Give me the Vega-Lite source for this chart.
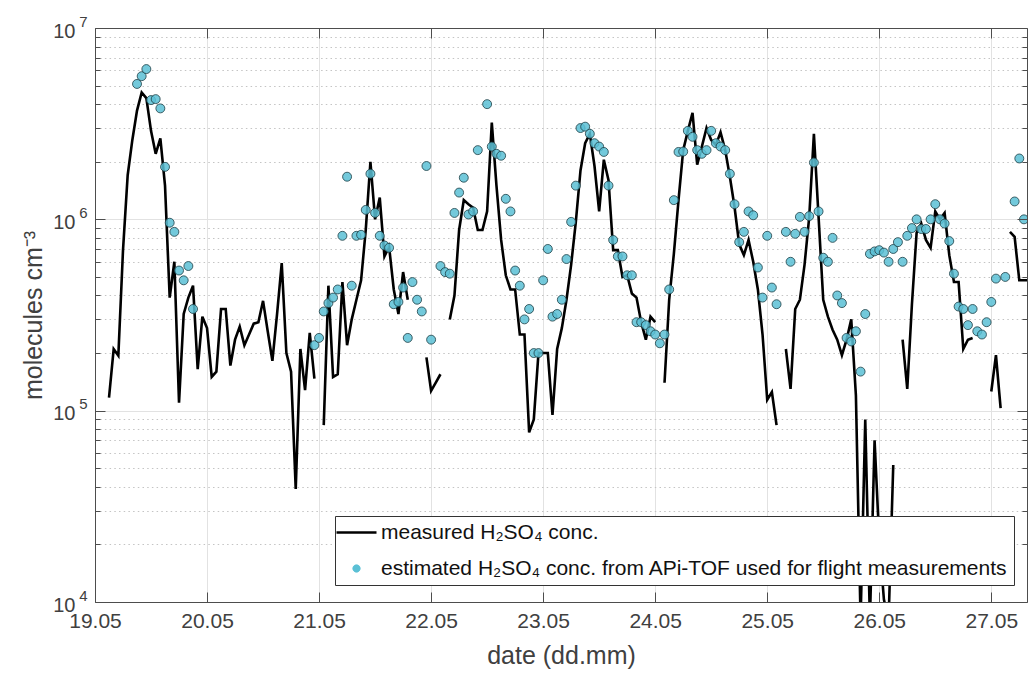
{
  "$schema": "https://vega.github.io/schema/vega-lite/v6.json",
  "width": 932,
  "height": 574,
  "autosize": {"type": "none"},
  "padding": {"left": 95, "top": 28, "right": 2, "bottom": 71},
  "background": "white",
  "config": {"view": {"stroke": null}, "font": "Liberation Sans"},
  "data": {"values": [
    {"h":3,"m":117000,"e":null},{"h":4,"m":210000,"e":null},{"h":5,"m":194000,"e":null},{"h":6,"m":690000,"e":null},
    {"h":7,"m":1700000,"e":null},{"h":8,"m":2600000,"e":null},{"h":9,"m":3700000,"e":5100000},{"h":10,"m":4600000,"e":5600000},
    {"h":11,"m":4300000,"e":6100000},{"h":12,"m":2900000,"e":4200000},{"h":13,"m":2200000,"e":4250000},{"h":14,"m":2650000,"e":3800000},
    {"h":15,"m":1500000,"e":1880000},{"h":16,"m":390000,"e":960000},{"h":17,"m":600000,"e":860000},{"h":18,"m":110000,"e":540000},
    {"h":19,"m":320000,"e":480000},{"h":20,"m":390000,"e":570000},{"h":21,"m":450000,"e":340000},{"h":22,"m":165000,"e":null},
    {"h":23,"m":310000,"e":null},{"h":24,"m":270000,"e":null},{"h":25,"m":150000,"e":null},{"h":26,"m":160000,"e":null},
    {"h":27,"m":340000,"e":null},{"h":28,"m":340000,"e":null},{"h":29,"m":172000,"e":null},{"h":30,"m":235000,"e":null},
    {"h":31,"m":275000,"e":null},{"h":32,"m":220000,"e":null},{"h":33,"m":250000,"e":null},{"h":34,"m":285000,"e":null},
    {"h":35,"m":290000,"e":null},{"h":36,"m":375000,"e":null},{"h":37,"m":260000,"e":null},{"h":38,"m":182000,"e":null},
    {"h":39,"m":320000,"e":null},{"h":40,"m":590000,"e":null},{"h":41,"m":200000,"e":null},{"h":42,"m":160000,"e":null},
    {"h":43,"m":39000,"e":null},{"h":44,"m":210000,"e":null},{"h":45,"m":128000,"e":null},{"h":46,"m":255000,"e":null},
    {"h":47,"m":147000,"e":220000},{"h":48,"m":null,"e":240000},{"h":49,"m":84000,"e":330000},{"h":50,"m":450000,"e":365000},
    {"h":51,"m":150000,"e":390000},{"h":52,"m":155000,"e":430000},{"h":53,"m":470000,"e":820000},{"h":54,"m":220000,"e":1670000},
    {"h":55,"m":300000,"e":450000},{"h":56,"m":380000,"e":820000},{"h":57,"m":480000,"e":830000},{"h":58,"m":880000,"e":1120000},
    {"h":59,"m":2000000,"e":1730000},{"h":60,"m":1000000,"e":1080000},{"h":61,"m":1300000,"e":820000},{"h":62,"m":640000,"e":730000},
    {"h":63,"m":720000,"e":710000},{"h":64,"m":430000,"e":360000},{"h":65,"m":320000,"e":370000},{"h":66,"m":530000,"e":440000},
    {"h":67,"m":380000,"e":240000},{"h":68,"m":null,"e":470000},{"h":69,"m":null,"e":380000},{"h":70,"m":null,"e":330000},
    {"h":71,"m":190000,"e":1900000},{"h":72,"m":127000,"e":235000},{"h":73,"m":140000,"e":null},{"h":74,"m":155000,"e":570000},
    {"h":75,"m":null,"e":530000},{"h":76,"m":300000,"e":520000},{"h":77,"m":400000,"e":1080000},{"h":78,"m":880000,"e":1380000},
    {"h":79,"m":1260000,"e":1650000},{"h":80,"m":1200000,"e":1060000},{"h":81,"m":1150000,"e":1100000},{"h":82,"m":880000,"e":2300000},
    {"h":83,"m":880000,"e":null},{"h":84,"m":1100000,"e":4000000},{"h":85,"m":3200000,"e":2400000},{"h":86,"m":1500000,"e":2200000},
    {"h":87,"m":780000,"e":2150000},{"h":88,"m":510000,"e":1280000},{"h":89,"m":430000,"e":1100000},{"h":90,"m":430000,"e":540000},
    {"h":91,"m":250000,"e":450000},{"h":92,"m":250000,"e":300000},{"h":93,"m":77000,"e":340000},{"h":94,"m":90000,"e":200000},
    {"h":95,"m":200000,"e":200000},{"h":96,"m":200000,"e":480000},{"h":97,"m":200000,"e":700000},{"h":98,"m":95000,"e":310000},
    {"h":99,"m":210000,"e":320000},{"h":100,"m":270000,"e":380000},{"h":101,"m":380000,"e":620000},{"h":102,"m":580000,"e":970000},
    {"h":103,"m":970000,"e":1500000},{"h":104,"m":1800000,"e":3000000},{"h":105,"m":2500000,"e":3050000},{"h":106,"m":2800000,"e":2800000},
    {"h":107,"m":1900000,"e":2500000},{"h":108,"m":1100000,"e":2400000},{"h":109,"m":2050000,"e":2250000},{"h":110,"m":1600000,"e":1500000},
    {"h":111,"m":690000,"e":780000},{"h":112,"m":690000,"e":640000},{"h":113,"m":500000,"e":640000},{"h":114,"m":510000,"e":510000},
    {"h":115,"m":410000,"e":510000},{"h":116,"m":390000,"e":290000},{"h":117,"m":290000,"e":290000},{"h":118,"m":235000,"e":280000},
    {"h":119,"m":310000,"e":260000},{"h":120,"m":290000,"e":250000},{"h":121,"m":null,"e":225000},{"h":122,"m":140000,"e":250000},
    {"h":123,"m":380000,"e":430000},{"h":124,"m":660000,"e":1260000},{"h":125,"m":1260000,"e":2250000},{"h":126,"m":2300000,"e":2260000},
    {"h":127,"m":2900000,"e":2900000},{"h":128,"m":3600000,"e":2700000},{"h":129,"m":1930000,"e":2300000},{"h":130,"m":2400000,"e":2200000},
    {"h":131,"m":3000000,"e":2300000},{"h":132,"m":2600000,"e":2900000},{"h":133,"m":2450000,"e":2500000},{"h":134,"m":2850000,"e":2400000},
    {"h":135,"m":2300000,"e":2300000},{"h":136,"m":1670000,"e":1730000},{"h":137,"m":1160000,"e":1200000},{"h":138,"m":740000,"e":760000},
    {"h":139,"m":650000,"e":860000},{"h":140,"m":780000,"e":1100000},{"h":141,"m":600000,"e":1050000},{"h":142,"m":430000,"e":560000},
    {"h":143,"m":250000,"e":390000},{"h":144,"m":114000,"e":820000},{"h":145,"m":125000,"e":440000},{"h":146,"m":84000,"e":360000},
    {"h":147,"m":null,"e":null},{"h":148,"m":210000,"e":860000},{"h":149,"m":130000,"e":600000},{"h":150,"m":340000,"e":840000},
    {"h":151,"m":380000,"e":1030000},{"h":152,"m":580000,"e":860000},{"h":153,"m":1030000,"e":1040000},{"h":154,"m":2800000,"e":1980000},
    {"h":155,"m":1030000,"e":1100000},{"h":156,"m":380000,"e":630000},{"h":157,"m":310000,"e":600000},{"h":158,"m":265000,"e":800000},
    {"h":159,"m":235000,"e":400000},{"h":160,"m":195000,"e":365000},{"h":161,"m":235000,"e":240000},{"h":162,"m":300000,"e":230000},
    {"h":163,"m":120000,"e":260000},{"h":164,"m":8000,"e":160000},{"h":165,"m":90000,"e":320000},{"h":166,"m":8000,"e":660000},
    {"h":167,"m":70000,"e":680000},{"h":168,"m":21000,"e":690000},{"h":169,"m":10300,"e":670000},{"h":170,"m":8000,"e":600000},
    {"h":171,"m":52000,"e":700000},{"h":172,"m":null,"e":760000},{"h":173,"m":235000,"e":600000},{"h":174,"m":130000,"e":820000},
    {"h":175,"m":360000,"e":900000},{"h":176,"m":850000,"e":1000000},{"h":177,"m":950000,"e":890000},{"h":178,"m":780000,"e":890000},
    {"h":179,"m":710000,"e":1000000},{"h":180,"m":1100000,"e":1200000},{"h":181,"m":1000000,"e":1000000},{"h":182,"m":1080000,"e":950000},
    {"h":183,"m":650000,"e":770000},{"h":184,"m":470000,"e":520000},{"h":185,"m":470000,"e":350000},{"h":186,"m":210000,"e":340000},
    {"h":187,"m":235000,"e":280000},{"h":188,"m":240000,"e":340000},{"h":189,"m":null,"e":260000},{"h":190,"m":null,"e":250000},
    {"h":191,"m":null,"e":290000},{"h":192,"m":126000,"e":370000},{"h":193,"m":195000,"e":490000},{"h":194,"m":103000,"e":null},
    {"h":195,"m":null,"e":500000},{"h":196,"m":860000,"e":null},{"h":197,"m":810000,"e":1240000},{"h":198,"m":480000,"e":2080000},
    {"h":199,"m":480000,"e":1000000},{"h":200,"m":480000,"e":null}
  ]},
  "layer": [
    {
      "mark": {"type": "line", "strokeWidth": 2.6, "clip": true, "invalid": "break-paths-filter-domains"},
      "encoding": {
        "x": {"field": "h", "type": "quantitative",
          "scale": {"domain": [0, 199.65], "nice": false, "zero": false},
          "axis": {"orient": "bottom", "values": [0,24,48,72,96,120,144,168,192],
            "grid": true, "gridColor": "#e2e2e2", "gridWidth": 1, "ticks": false, "labels": false, "domain": false, "title": null, "zindex": 0}},
        "y": {"field": "m", "type": "quantitative",
          "scale": {"type": "log", "domain": [10000, 10000000], "nice": false},
          "axis": {"orient": "left",
            "values": [10000,20000,30000,40000,50000,60000,70000,80000,90000,100000,200000,300000,400000,500000,600000,700000,800000,900000,1000000,2000000,3000000,4000000,5000000,6000000,7000000,8000000,9000000,10000000],
            "grid": true, "ticks": false, "domain": false, "title": null, "zindex": 0,
            "labelExpr": "abs(log(datum.value)/LN10 - round(log(datum.value)/LN10)) < 0.01 ? '' + round(log(datum.value)/LN10) : ''",
            "labelFontSize": 15, "labelColor": "#404040", "labelFont": "Liberation Sans", "labelPadding": 8, "labelOffset": -7, "labelFlush": false,
            "gridColor": {"condition": {"test": "abs(log(datum.value)/LN10 - round(log(datum.value)/LN10)) < 0.01", "value": "#e2e2e2"}, "value": "#c4c4c4"},
            "gridDash": {"condition": {"test": "abs(log(datum.value)/LN10 - round(log(datum.value)/LN10)) < 0.01", "value": []}, "value": [1.5, 3.2]}}},
        "color": {"datum": "measured H₂SO₄ conc.",
          "scale": {"domain": ["measured H₂SO₄ conc.", "estimated H₂SO₄ conc. from APi-TOF used for flight measurements"], "range": ["#000000", "#5bc0d5"]},
          "legend": {"orient": "none", "legendX": 240, "legendY": 488, "title": null, "fillColor": "white", "strokeColor": "#333333",
            "padding": 6, "labelFontSize": 21, "labelFont": "Liberation Sans", "labelColor": "#111111", "labelLimit": 1000,
            "rowPadding": 14, "labelOffset": 14, "symbolOffset": 5, "symbolSize": 1600,
            "encoding": {"symbols": {
              "shape": {"value": {"expr": "datum.index === 0 ? 'stroke' : 'M-0.185,0A0.185,0.185,0,1,1,0.185,0A0.185,0.185,0,1,1,-0.185,0Z'"}},
              "fill": {"value": {"expr": "datum.index === 0 ? 'transparent' : '#5bc0d5'"}},
              "stroke": {"value": {"expr": "datum.index === 0 ? '#000000' : '#1d3d44'"}},
              "strokeWidth": {"value": {"expr": "datum.index === 0 ? 2.6 : 0.8"}},
              "opacity": {"value": 1}
            }}}}
      }
    },
    {
      "mark": {"type": "point", "filled": true, "size": 80, "stroke": "#1d3d44", "strokeWidth": 0.8, "opacity": 1, "fillOpacity": 0.85, "clip": true},
      "encoding": {
        "x": {"field": "h", "type": "quantitative",
          "scale": {"domain": [0, 199.65], "nice": false, "zero": false},
          "axis": {"orient": "bottom", "values": [0,24,48,72,96,120,144,168,192],
            "labelExpr": "(19 + datum.value/24) + '.05'", "zindex": 1,
            "title": "date (dd.mm)", "grid": false,
            "tickSize": -10, "tickColor": "#4d4d4d", "tickWidth": 1, "domainColor": "#4d4d4d", "domainWidth": 1,
            "labelFontSize": 21, "labelColor": "#404040", "labelFont": "Liberation Sans", "labelPadding": 18, "labelFlush": false,
            "titleFontSize": 25, "titleColor": "#404040", "titleFont": "Liberation Sans", "titleFontWeight": "normal", "titlePadding": 12}},
        "y": {"field": "e", "type": "quantitative",
          "scale": {"type": "log", "domain": [10000, 10000000], "nice": false},
          "axis": {"orient": "left",
            "values": [10000,100000,1000000,10000000],
            "labelExpr": "'10'",
            "title": "molecules cm⁻³", "grid": false, "zindex": 1, "ticks": false,
            "domainColor": "#4d4d4d", "domainWidth": 1,
            "labelFontSize": 20, "labelColor": "#404040", "labelFont": "Liberation Sans", "labelPadding": 20, "labelOffset": 3, "labelFlush": false,
            "titleFontSize": 25, "titleColor": "#404040", "titleFont": "Liberation Sans", "titleFontWeight": "normal", "titlePadding": 6}},
        "color": {"datum": "estimated H₂SO₄ conc. from APi-TOF used for flight measurements"}
      }
    },
    {
      "mark": {"type": "point", "opacity": 0, "clip": true},
      "encoding": {
        "x": {"field": "h", "type": "quantitative",
          "scale": {"domain": [0, 199.65], "nice": false, "zero": false},
          "axis": {"orient": "top", "values": [0,24,48,72,96,120,144,168,192], "labels": false, "title": null, "grid": false, "zindex": 1,
            "tickSize": -10, "tickColor": "#4d4d4d", "domainColor": "#4d4d4d", "domainWidth": 1}},
        "y": {"field": "e", "type": "quantitative",
          "scale": {"type": "log", "domain": [10000, 10000000], "nice": false},
          "axis": {"orient": "right",
            "values": [10000,20000,30000,40000,50000,60000,70000,80000,90000,100000,200000,300000,400000,500000,600000,700000,800000,900000,1000000,2000000,3000000,4000000,5000000,6000000,7000000,8000000,9000000,10000000],
            "labels": false, "title": null, "grid": false, "zindex": 1,
            "tickSize": {"condition": {"test": "abs(log(datum.value)/LN10 - round(log(datum.value)/LN10)) < 0.01", "value": -10}, "value": -5},
            "tickColor": "#4d4d4d", "domainColor": "#4d4d4d", "domainWidth": 1}}
      }
    },
    {
      "mark": {"type": "point", "opacity": 0, "clip": true},
      "encoding": {
        "x": {"field": "h", "type": "quantitative",
          "scale": {"domain": [0, 199.65], "nice": false, "zero": false}, "axis": null},
        "y": {"field": "e", "type": "quantitative",
          "scale": {"type": "log", "domain": [10000, 10000000], "nice": false},
          "axis": {"orient": "left",
            "values": [10000,20000,30000,40000,50000,60000,70000,80000,90000,100000,200000,300000,400000,500000,600000,700000,800000,900000,1000000,2000000,3000000,4000000,5000000,6000000,7000000,8000000,9000000,10000000],
            "labels": false, "title": null, "grid": false, "zindex": 1, "domain": false,
            "tickSize": {"condition": {"test": "abs(log(datum.value)/LN10 - round(log(datum.value)/LN10)) < 0.01", "value": -10}, "value": -5},
            "tickColor": "#4d4d4d"}}
      }
    }
  ],
  "resolve": {"axis": {"x": "independent", "y": "independent"}}
}
